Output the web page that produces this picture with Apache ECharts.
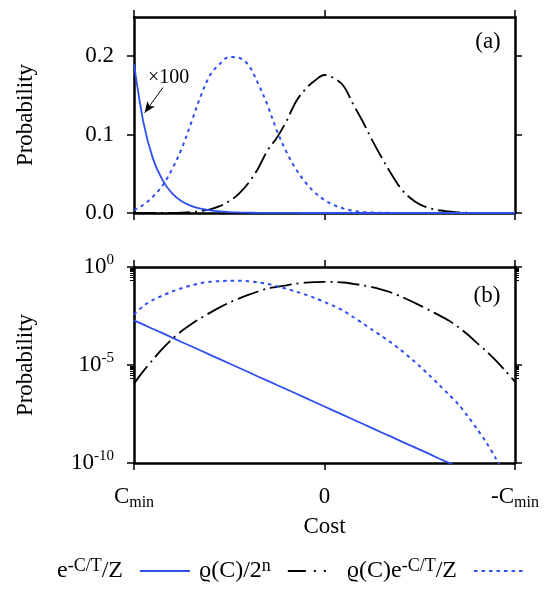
<!DOCTYPE html>
<html><head><meta charset="utf-8">
<script src="https://cdn.jsdelivr.net/npm/echarts@6/dist/echarts.min.js"></script>
<style>html,body{margin:0;padding:0;background:#fff}#c{width:551px;height:591px}</style>
</head><body><div id="c"></div>
<script>
// ---- data ----
const costX = [-1,-0.95,-0.9,-0.85,-0.8,-0.75,-0.7,-0.65,-0.6,-0.55,-0.5,-0.45,-0.4,-0.35,-0.3,-0.25,-0.2,-0.15,-0.1,-0.05,0,0.05,0.1,0.15,0.2,0.25,0.3,0.35,0.4,0.45,0.5,0.55,0.6,0.65,0.7,0.75,0.8,0.85,0.9,0.95,1];
// e^{-C/T}/Z
const boltzmann = [1.9e-3,1.15e-3,6.9e-4,4.2e-4,2.5e-4,1.5e-4,9.1e-5,5.5e-5,3.3e-5,2.0e-5,1.2e-5,7.2e-6,4.4e-6,2.6e-6,1.6e-6,9.5e-7,5.8e-7,3.5e-7,2.1e-7,1.26e-7,7.6e-8,4.6e-8,2.75e-8,1.66e-8,1.0e-8,6.0e-9,3.6e-9,2.2e-9,1.3e-9,7.9e-10,4.8e-10,2.9e-10,1.7e-10,1.05e-10,6.3e-11,3.8e-11,2.3e-11,1.4e-11,8.3e-12,5.0e-12,3.0e-12];
// rho(C)/2^n
const density = [1.12e-6,5.0e-6,1.9e-5,6.8e-5,2.1e-4,5.4e-4,1.2e-3,2.45e-3,4.7e-3,8.7e-3,0.0151,0.0245,0.038,0.0562,0.0794,0.096,0.117,0.142,0.158,0.169,0.176,0.172,0.162,0.139,0.117,0.093,0.0708,0.0501,0.0316,0.0191,0.011,6.3e-3,3.5e-3,1.9e-3,8.9e-4,3.7e-4,1.35e-4,5.0e-5,1.66e-5,5.0e-6,1.4e-6];
// rho(C) e^{-C/T}/Z
const product = [0.0037,0.0105,0.021,0.035,0.056,0.082,0.115,0.149,0.176,0.190,0.199,0.198,0.189,0.166,0.138,0.105,0.078,0.056,0.039,0.026,0.0165,0.0100,0.0058,0.0028,1.35e-3,6.3e-4,3.0e-4,1.38e-4,5.9e-5,2.3e-5,8.7e-6,3.0e-6,1.0e-6,3.3e-7,1.05e-7,2.6e-8,5.6e-9,1.1e-9,1.66e-10,2.5e-11,3e-12];
const boltzmannScale = 100;
const xTickValues = [-1, 0, 1];
const xTickLabels = ['{m|C}{s|min}', '{m|0}', '{m|-C}{s|min}'];
const linTickValues = [0, 0.1, 0.2];
const linTickLabels = ['0.0', '0.1', '0.2'];
const logTickValues = [1e-10, 1e-5, 1];
const logTickLabels = ['{m|10}{p|-10}', '{m|10}{p|-5}', '{m|10}{p|0}'];
const logMinorTicks = [0.2,0.3,0.4,0.5,0.6,0.7,0.8,0.9,2e-6,3e-6,4e-6,5e-6,6e-6,7e-6,8e-6,9e-6];
const seriesNames = ['boltz', 'dens', 'prod'];
const legendLabels = ['{t|e}{p|-C/T}{t|/Z}{g| }', '{t|ϱ(C)/2}{p|n}{g| }', '{t|ϱ(C)e}{p|-C/T}{t|/Z}{g| }'];
const arrowFrom = [-0.848, 0.160], arrowTo = [-0.944, 0.128], timesLabelAt = [-0.818, 0.172];

// ---- chart ----
const FONT = 'Liberation Serif';
const BLUE = '#2d4ff0';
const chart = echarts.init(document.getElementById('c'));
const pairs = (ys, k) => costX.map((x, i) => [x, ys[i] * (k || 1)]);
const solidL = {type: 'solid', width: 1.8, color: BLUE};
const dashDotL = {type: [22, 5, 2, 5], width: 1.8, color: '#000'};
const dottedL = {type: [3.5, 4], width: 2, color: BLUE};
const richBase = {
  m: {fontSize: 23, lineHeight: 28, fontFamily: FONT, color: '#000'},
  s: {fontSize: 16, lineHeight: 16, verticalAlign: 'bottom', fontFamily: FONT, color: '#000'},
  p: {fontSize: 15, lineHeight: 15, verticalAlign: 'top', fontFamily: FONT, color: '#000'}
};
const axLine = {show: true, onZero: false, lineStyle: {color: '#000', width: 2.5}};
const tickStyle = {color: '#000', width: 1.5};

function xAx(grid, pos, showLabels) {
  const a = {
    type: 'value', gridIndex: grid, position: pos, min: -1, max: 1,
    axisLine: axLine,
    axisTick: {show: true, inside: false, length: 7, customValues: xTickValues, lineStyle: tickStyle},
    axisLabel: {show: false},
    splitLine: {show: false}
  };
  if (showLabels) {
    a.axisLabel = {show: true, customValues: xTickValues, margin: 20,
      formatter: v => xTickLabels[xTickValues.indexOf(Math.round(v))], rich: richBase};
    a.name = 'Cost'; a.nameLocation = 'middle'; a.nameGap = 52;
    a.nameTextStyle = {fontFamily: FONT, fontSize: 23, color: '#000'};
  }
  return a;
}
function yLin(pos, showLabels) {
  const a = {
    type: 'value', gridIndex: 0, position: pos, min: 0, max: 0.25,
    axisLine: axLine,
    axisTick: {show: true, inside: false, length: 7, customValues: linTickValues, lineStyle: tickStyle},
    axisLabel: {show: false}, splitLine: {show: false}
  };
  if (showLabels) {
    a.axisLabel = {show: true, customValues: linTickValues, margin: 20,
      formatter: v => linTickLabels[Math.round(v * 10)], fontFamily: FONT, fontSize: 23, color: '#000'};
    a.name = 'Probability'; a.nameLocation = 'middle'; a.nameGap = 97;
    a.nameTextStyle = {fontFamily: FONT, fontSize: 23, color: '#000'};
  }
  return a;
}
function yLog(pos, showLabels) {
  const a = {
    type: 'log', logBase: 10, gridIndex: 1, position: pos, min: 1e-10, max: 1,
    axisLine: axLine,
    axisTick: {show: true, inside: false, length: 7, customValues: logTickValues, lineStyle: tickStyle},
    axisLabel: {show: false}, splitLine: {show: false}, minorTick: {show: false}
  };
  if (showLabels) {
    a.axisLabel = {show: true, customValues: logTickValues, margin: 20,
      formatter: v => logTickLabels[[-10, -5, 0].indexOf(Math.round(Math.log10(v)))], rich: richBase};
    a.name = 'Probability'; a.nameLocation = 'middle'; a.nameGap = 97;
    a.nameTextStyle = {fontFamily: FONT, fontSize: 23, color: '#000'};
  }
  return a;
}
function yLogMinor(pos) {
  return {
    type: 'log', logBase: 10, gridIndex: 1, position: pos, min: 1e-10, max: 1,
    axisLine: {show: false, onZero: false},
    axisTick: {show: true, inside: false, length: 4, customValues: logMinorTicks, lineStyle: {color: '#000', width: 1}},
    axisLabel: {show: false}, splitLine: {show: false}
  };
}

const option = {
  animation: false,
  backgroundColor: '#fff',
  grid: [
    {left: 134, top: 17, width: 381, height: 196},
    {left: 134, top: 267, width: 381, height: 196}
  ],
  xAxis: [xAx(0, 'bottom', false), xAx(0, 'top', false), xAx(1, 'bottom', true), xAx(1, 'top', false)],
  yAxis: [yLin('left', true), yLin('right', false), yLog('left', true), yLog('right', false), yLogMinor('left'), yLogMinor('right')],
  legend: {
    left: 57, top: 557, width: 700, padding: 0, align: 'right', itemWidth: 50, itemHeight: 14, itemGap: 8,
    selectedMode: false,
    itemStyle: {opacity: 0},
    data: [
      {name: seriesNames[0]},
      {name: seriesNames[1], lineStyle: {type: [18, 8, 2, 8, 2, 30]}},
      {name: seriesNames[2]}
    ],
    formatter: name => legendLabels[seriesNames.indexOf(name)],
    textStyle: {fontFamily: FONT, color: '#000',
      rich: {
        t: {fontSize: 24, lineHeight: 28, fontFamily: FONT, color: '#000'},
        p: {fontSize: 18, lineHeight: 18, verticalAlign: 'top', fontFamily: FONT, color: '#000'},
        g: {fontSize: 10, width: 12}
      }}
  },
  graphic: [
    {type: 'text', x: 488, y: 42, style: {text: '(a)', font: '23px "Liberation Serif"', fill: '#000', align: 'center', verticalAlign: 'middle'}},
    {type: 'text', x: 487, y: 296, style: {text: '(b)', font: '23px "Liberation Serif"', fill: '#000', align: 'center', verticalAlign: 'middle'}}
  ],
  series: [
    {name: seriesNames[1], type: 'line', xAxisIndex: 0, yAxisIndex: 0, data: pairs(density), showSymbol: false, symbol: 'none', smooth: 0.35, lineStyle: dashDotL, itemStyle: {color: '#000'}},
    {name: seriesNames[2], type: 'line', xAxisIndex: 0, yAxisIndex: 0, data: pairs(product), showSymbol: false, symbol: 'none', smooth: 0.35, lineStyle: dottedL, itemStyle: {color: BLUE}},
    {name: seriesNames[0], type: 'line', xAxisIndex: 0, yAxisIndex: 0, data: pairs(boltzmann, boltzmannScale), showSymbol: false, symbol: 'none', smooth: 0.3, lineStyle: solidL, itemStyle: {color: BLUE},
      markLine: {silent: true, symbol: ['none', 'arrow'], symbolSize: [7, 11], label: {show: false},
        lineStyle: {color: '#000', width: 1, type: 'solid'},
        data: [[{coord: arrowFrom}, {coord: arrowTo}]]},
      markPoint: {silent: true, symbol: 'circle', symbolSize: 0,
        label: {show: true, position: 'inside', formatter: '×100', fontFamily: FONT, fontSize: 20, color: '#000'},
        data: [{coord: timesLabelAt}]}
    },
    {name: seriesNames[1], type: 'line', xAxisIndex: 2, yAxisIndex: 2, data: pairs(density), showSymbol: false, symbol: 'none', smooth: 0.3, lineStyle: dashDotL, itemStyle: {color: '#000'}},
    {name: seriesNames[2], type: 'line', xAxisIndex: 2, yAxisIndex: 2, data: pairs(product), showSymbol: false, symbol: 'none', smooth: 0.3, lineStyle: dottedL, itemStyle: {color: BLUE}},
    {name: seriesNames[0], type: 'line', xAxisIndex: 2, yAxisIndex: 2, data: pairs(boltzmann), showSymbol: false, symbol: 'none', lineStyle: solidL, itemStyle: {color: BLUE}}
  ]
};
chart.setOption(option);
</script>
</body></html>
